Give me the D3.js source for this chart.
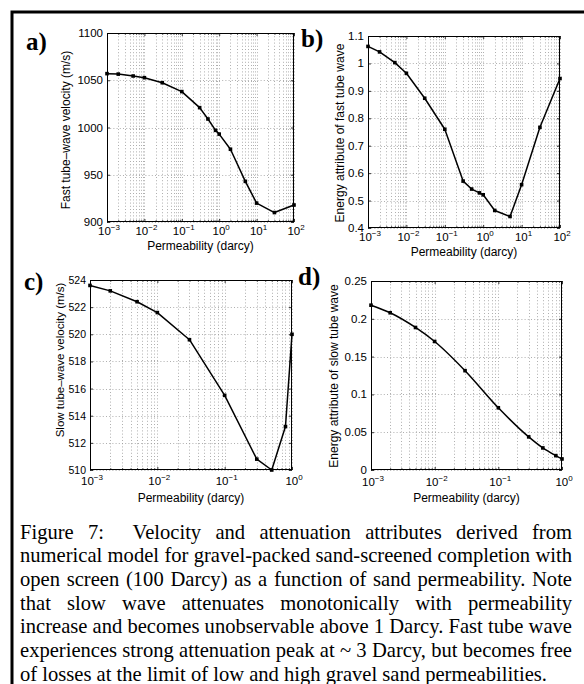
<!DOCTYPE html>
<html><head><meta charset="utf-8">
<script src="https://cdn.jsdelivr.net/npm/d3@7"></script>
<style>body{margin:0;background:#fff}svg{display:block}</style>
</head><body>
<svg id="fig" width="584" height="684"></svg>
<script>
// ---------------- data ----------------
const permWide = [0.001,0.002,0.005,0.01,0.03,0.1,0.3,0.5,0.8,1,2,5,10,30,100];
const fastVelocity = [1057,1056.5,1054.5,1052.7,1047.4,1038,1021,1009,997,993,977,943,920,910,918];
const fastEnergy = [1.062,1.042,1.003,0.964,0.873,0.76,0.571,0.542,0.528,0.521,0.464,0.442,0.558,0.767,0.945];
const permNarrow = [0.001,0.002,0.005,0.01,0.03,0.1,0.3,0.5,0.8,1];
const slowVelocity = [523.6,523.2,522.4,521.6,519.6,515.5,510.8,510.0,513.2,520.0];
const slowEnergy = [0.218,0.208,0.1885,0.170,0.1314,0.0823,0.0438,0.0292,0.019,0.0146];

const xExpWide = [-3,-2,-1,0,1,2];
const xExpNarrow = [-3,-2,-1,0];
const yTicksA = [900,950,1000,1050,1100];
const yTickLabelsA = ["900","950","1000","1050","1100"];
const yTicksB = [0.4,0.5,0.6,0.7,0.8,0.9,1.0,1.1];
const yTickLabelsB = ["0.4","0.5","0.6","0.7","0.8","0.9","1","1.1"];
const yTicksC = [510,512,514,516,518,520,522,524];
const yTickLabelsC = ["510","512","514","516","518","520","522","524"];
const yTicksD = [0,0.05,0.1,0.15,0.2,0.25];
const yTickLabelsD = ["0","0.05","0.1","0.15","0.2","0.25"];

const xTitle = "Permeability (darcy)";
const yTitles = ["Fast tube\u2013wave velocity (m/s)","Energy attribute of fast tube wave",
                 "Slow tube\u2013wave velocity (m/s)","Energy attribute of slow tube wave"];
const panelLetters = ["a)","b)","c)","d)"];

const captionLines = [
 "Figure 7:  Velocity and attenuation attributes derived from",
 "numerical model for gravel-packed sand-screened completion with",
 "open screen (100 Darcy) as a function of sand permeability. Note",
 "that slow wave attenuates monotonically with permeability",
 "increase and becomes unobservable above 1 Darcy. Fast tube wave",
 "experiences strong attenuation peak at ~ 3 Darcy, but becomes free",
 "of losses at the limit of low and high gravel sand permeabilities."
];

// ---------------- drawing ----------------
const svg = d3.select("#fig");
const SANS = "'Liberation Sans', Arial, Helvetica, sans-serif";
const SERIF = "'Liberation Serif', 'Times New Roman', serif";

// outer frame (top and left edges)
svg.append("path").attr("d","M12,684V12H584").attr("fill","none")
   .attr("stroke","#000").attr("stroke-width",3);

function panel(o){
  const g = svg.append("g");
  const x = d3.scaleLog().domain([Math.pow(10,o.xExp[0]), Math.pow(10,o.xExp[o.xExp.length-1])]).range([o.x0,o.x1]);
  const y = d3.scaleLinear().domain([o.yTicks[0], o.yTicks[o.yTicks.length-1]]).range([o.y1,o.y0]);
  const majors = o.xExp.map(e=>Math.pow(10,e));
  const minors = [];
  for (let i=0;i<o.xExp.length-1;i++) for (let m=2;m<=9;m++) minors.push(m*Math.pow(10,o.xExp[i]));
  const tf = o.tickFont || 11.5;
  const xtOff = o.xtOff || 13, xlOff = o.xlOff || 28;

  // grid
  const grid = g.append("g").attr("stroke","#9a9a9a").attr("stroke-width",0.8)
     .attr("stroke-dasharray","1,2.2").attr("fill","none");
  grid.selectAll("line.v").data(majors.concat(minors)).join("line")
     .attr("x1",d=>Math.round(x(d))+0.5).attr("x2",d=>Math.round(x(d))+0.5)
     .attr("y1",o.y0).attr("y2",o.y1);
  grid.selectAll("line.h").data(o.yTicks).join("line")
     .attr("y1",d=>Math.round(y(d))+0.5).attr("y2",d=>Math.round(y(d))+0.5)
     .attr("x1",o.x0).attr("x2",o.x1);

  // ticks (inward, all sides)
  const axes = [
    [d3.axisBottom(x).tickValues(majors).tickSize(-3), `translate(0,${o.y1})`],
    [d3.axisBottom(x).tickValues(minors).tickSize(-1.8), `translate(0,${o.y1})`],
    [d3.axisTop(x).tickValues(majors).tickSize(-3), `translate(0,${o.y0})`],
    [d3.axisTop(x).tickValues(minors).tickSize(-1.8), `translate(0,${o.y0})`],
    [d3.axisLeft(y).tickValues(o.yTicks).tickSize(-3), `translate(${o.x0},0)`],
    [d3.axisRight(y).tickValues(o.yTicks).tickSize(-3), `translate(${o.x1},0)`]
  ];
  axes.forEach(([ax,tr])=>{
    const a = g.append("g").attr("transform",tr).call(ax.tickFormat(""));
    a.select(".domain").remove();
    a.selectAll("line").attr("stroke","#000").attr("stroke-width",0.8);
  });

  // x tick labels 10^e
  g.selectAll("text.xt").data(o.xExp).join("text")
    .attr("x",d=>x(Math.pow(10,d))+2).attr("y",o.y1+xtOff)
    .attr("text-anchor","middle").attr("font-family",SANS).attr("font-size",11.5).attr("fill","#000")
    .each(function(d){
      const t = d3.select(this);
      t.append("tspan").text("10");
      t.append("tspan").attr("dy",-5.5).attr("font-size",8).text(d<0?"\u2212"+(-d):String(d));
    });
  // y tick labels
  g.selectAll("text.yt").data(o.yTicks).join("text")
    .attr("x",o.x0-4).attr("y",d=>y(d)+4)
    .attr("text-anchor","end").attr("font-family",SANS).attr("font-size",tf).attr("fill","#000")
    .text((d,i)=>o.yLabels[i]);

  // box
  g.append("rect").attr("x",o.x0+0.5).attr("y",o.y0+0.5).attr("width",o.x1-o.x0-1).attr("height",o.y1-o.y0-1)
    .attr("fill","none").attr("stroke","#000").attr("stroke-width",1);

  // titles
  g.append("text").attr("x",(o.x0+o.x1)/2).attr("y",o.y1+xlOff)
    .attr("text-anchor","middle").attr("font-family",SANS).attr("font-size",12).text(xTitle);
  g.append("text").attr("transform",`translate(${o.yTitleX},${o.yTitleY}) rotate(-90)`)
    .attr("text-anchor","middle").attr("font-family",SANS).attr("font-size",o.yTitleFont||12).text(o.yTitle);

  // line + markers
  const pts = o.xs.map((v,i)=>[v,o.ys[i]]);
  const line = d3.line().x(d=>x(d[0])).y(d=>y(d[1])).curve(o.curve||d3.curveLinear);
  g.append("path").attr("d",line(pts)).attr("fill","none").attr("stroke","#000").attr("stroke-width",1.5)
    .attr("stroke-linejoin","round");
  g.selectAll("rect.m").data(pts).join("rect")
    .attr("x",d=>x(d[0])-1.8).attr("y",d=>y(d[1])-1.8).attr("width",3.6).attr("height",3.6).attr("fill","#000");

  // panel letter
  svg.append("text").attr("x",o.lx).attr("y",o.ly).attr("font-family",SERIF).attr("font-weight","bold")
    .attr("font-size",25).text(o.letter);
}

panel({x0:107,x1:294,y0:33,y1:222,xExp:xExpWide,yTicks:yTicksA,yLabels:yTickLabelsA,
  xs:permWide,ys:fastVelocity,yTitle:yTitles[0],yTitleX:70,yTitleY:130,letter:panelLetters[0],lx:26,ly:50});
panel({x0:368,x1:560,y0:36,y1:228,xExp:xExpWide,yTicks:yTicksB,yLabels:yTickLabelsB,
  xs:permWide,ys:fastEnergy,yTitle:yTitles[1],yTitleX:344,yTitleY:133,letter:panelLetters[1],lx:301,ly:47});
panel({x0:90,x1:292,y0:280,y1:470,xExp:xExpNarrow,yTicks:yTicksC,yLabels:yTickLabelsC,tickFont:10.5,
  xs:permNarrow,ys:slowVelocity,yTitle:yTitles[2],yTitleX:64,yTitleY:360,yTitleFont:11.5,
  xtOff:15,xlOff:32,letter:panelLetters[2],lx:24,ly:290});
panel({x0:371,x1:562,y0:281,y1:470,xExp:xExpNarrow,yTicks:yTicksD,yLabels:yTickLabelsD,
  xs:permNarrow,ys:slowEnergy,yTitle:yTitles[3],yTitleX:338,yTitleY:376,letter:panelLetters[3],lx:298,ly:285,
  xtOff:16,xlOff:32,curve:d3.curveMonotoneX});

// ---------------- caption (justified) ----------------
const capLeft = 20, capRight = 572, lastRight = 547, capTop = 538.5, capStep = 23.7;
const probe = svg.append("text").attr("font-family",SERIF).attr("font-size",18).text(captionLines[6]);
const w18 = probe.node().getComputedTextLength();
probe.remove();
const capSize = 18*(lastRight-capLeft)/w18;

captionLines.forEach((ln,i)=>{
  const yy = capTop + i*capStep;
  if (i === captionLines.length-1){
    svg.append("text").attr("x",capLeft).attr("y",yy).attr("font-family",SERIF)
      .attr("font-size",capSize).text(ln);
    return;
  }
  const words = ln.split(/ +/);
  const g = svg.append("g");
  const nodes = words.map(w=>g.append("text").attr("y",yy).attr("font-family",SERIF)
      .attr("font-size",capSize).text(w));
  const widths = nodes.map(n=>n.node().getComputedTextLength());
  const gaps = words.length-1;
  const weights = [];
  for (let k=0;k<gaps;k++) weights.push(i===0 && k===1 ? 2 : 1);
  const wsum = weights.reduce((a,b)=>a+b,0);
  const free = (capRight-capLeft) - d3.sum(widths);
  let cx = capLeft;
  nodes.forEach((n,k)=>{
    n.attr("x",cx);
    cx += widths[k] + (k<gaps ? free*weights[k]/wsum : 0);
  });
});
</script>
</body></html>
